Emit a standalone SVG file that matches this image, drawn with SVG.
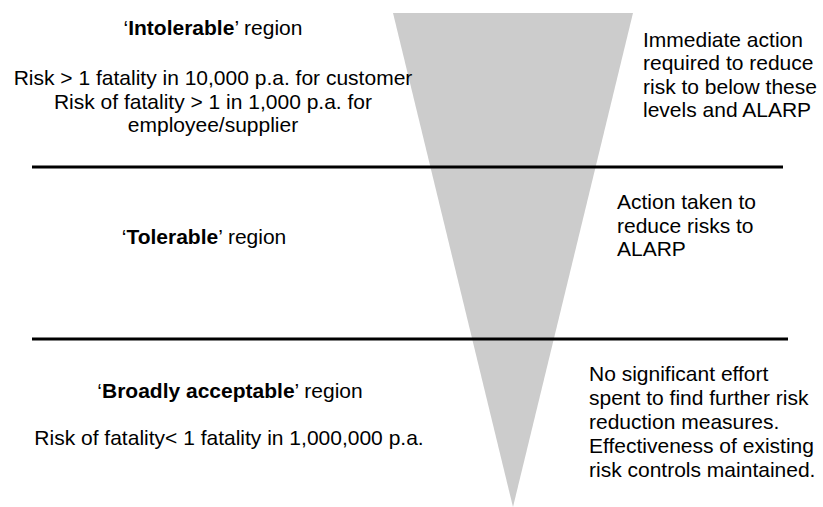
<svg xmlns="http://www.w3.org/2000/svg" width="823" height="507" viewBox="0 0 823 507">
<style>
  text { font-family: "Liberation Sans", Arial, sans-serif; font-size: 21px; fill: #000; }
  .c { text-anchor: middle; }
  .b { font-weight: bold; }
  .sep { stroke: #000; stroke-width: 3; }
</style>
<rect width="823" height="507" fill="#fff"/>
<g id="funnel">
  <polygon points="393,13 633,13 513,507" fill="#cccccc"/>
</g>
<g id="connectors">
  <line class="sep" x1="32" y1="167" x2="783" y2="167"/>
  <line class="sep" x1="32" y1="339" x2="788" y2="339"/>
</g>
<g id="intolerable">
  <text class="c" x="213" y="35">‘<tspan class="b">Intolerable</tspan>’ region</text>
  <text class="c" x="213" y="85">Risk &gt; 1 fatality in 10,000 p.a. for customer</text>
  <text class="c" x="213" y="108.5">Risk of fatality &gt; 1 in 1,000 p.a. for</text>
  <text class="c" x="213" y="132">employee/supplier</text>
</g>
<g id="intolerable-action">
  <text x="643" y="47">Immediate action</text>
  <text x="643" y="70">required to reduce</text>
  <text x="643" y="93.5">risk to below these</text>
  <text x="643" y="117">levels and ALARP</text>
</g>
<g id="tolerable">
  <text class="c" x="204" y="244">‘<tspan class="b">Tolerable</tspan>’ region</text>
</g>
<g id="tolerable-action">
  <text x="617" y="209">Action taken to</text>
  <text x="617" y="232.5">reduce risks to</text>
  <text x="617" y="256">ALARP</text>
</g>
<g id="acceptable">
  <text class="c" x="230" y="398">‘<tspan class="b">Broadly acceptable</tspan>’ region</text>
  <text class="c" x="229" y="445">Risk of fatality&lt; 1 fatality in 1,000,000 p.a.</text>
</g>
<g id="acceptable-action">
  <text x="589" y="381">No significant effort</text>
  <text x="589" y="405">spent to find further risk</text>
  <text x="589" y="429">reduction measures.</text>
  <text x="589" y="453">Effectiveness of existing</text>
  <text x="589" y="477">risk controls maintained.</text>
</g>
</svg>
